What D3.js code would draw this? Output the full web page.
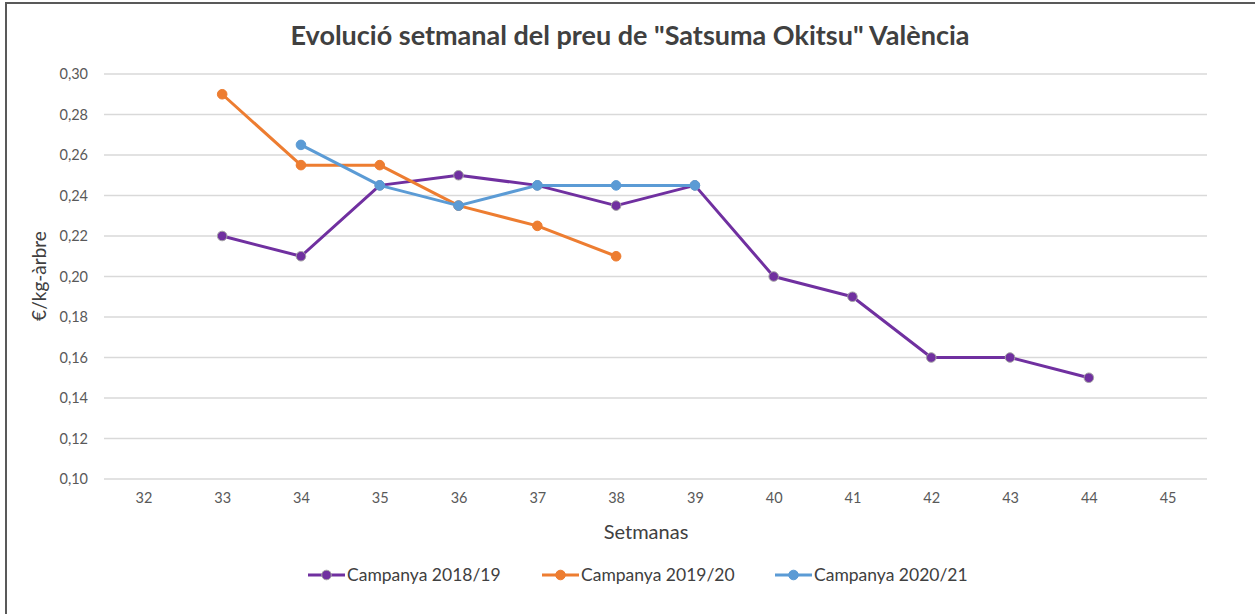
<!DOCTYPE html>
<html><head><meta charset="utf-8">
<script src="https://cdn.jsdelivr.net/npm/d3@7"></script>
<style>
html,body{margin:0;padding:0;background:#fff;}
svg{display:block;}
</style></head>
<body>
<script>
const weeks = [32,33,34,35,36,37,38,39,40,41,42,43,44,45];
const yTicks = [0.10,0.12,0.14,0.16,0.18,0.20,0.22,0.24,0.26,0.28,0.30];
const seriesNames = ["Campanya 2018/19","Campanya 2019/20","Campanya 2020/21"];
const weeks1819 = [33,34,35,36,37,38,39,40,41,42,43,44];
const vals1819 = [0.22,0.21,0.245,0.25,0.245,0.235,0.245,0.20,0.19,0.16,0.16,0.15];
const weeks1920 = [33,34,35,36,37,38];
const vals1920 = [0.29,0.255,0.255,0.235,0.225,0.21];
const weeks2021 = [34,35,36,37,38,39];
const vals2021 = [0.265,0.245,0.235,0.245,0.245,0.245];
const colors = ["#7030A0","#ED7D31","#5B9BD5"];

const series = [
  {name: seriesNames[0], pts: weeks1819.map((w,i)=>({w, v: vals1819[i]})), color: colors[0], stroke: "#A5A5A5"},
  {name: seriesNames[1], pts: weeks1920.map((w,i)=>({w, v: vals1920[i]})), color: colors[1], stroke: colors[1]},
  {name: seriesNames[2], pts: weeks2021.map((w,i)=>({w, v: vals2021[i]})), color: colors[2], stroke: colors[2]}
];

const W = 1255, H = 614;
const font = "Lato, 'Open Sans', sans-serif";
const svg = d3.select("body").append("svg").attr("width", W).attr("height", H);
svg.append("rect").attr("x",0).attr("y",0).attr("width",W).attr("height",H).attr("fill","#fff");
// chart border
svg.append("rect").attr("x",6).attr("y",3).attr("width",W+10).attr("height",H+10)
  .attr("fill","none").attr("stroke","#595959").attr("stroke-width",2);

const x = d3.scalePoint().domain(weeks).range([104,1207]).padding(0.5);
const y = d3.scaleLinear().domain([0.10,0.30]).range([479,74]);

// gridlines
svg.append("g").selectAll("line").data(yTicks).join("line")
  .attr("x1",104).attr("x2",1207)
  .attr("y1",d=>y(d)).attr("y2",d=>y(d))
  .attr("stroke","#D9D9D9").attr("stroke-width",1.3);

const fmt = d => d3.format(".2f")(d).replace(".",",");
// y axis
const ya = svg.append("g").attr("transform","translate(104,0)")
  .call(d3.axisLeft(y).tickValues(yTicks).tickFormat(fmt).tickSize(0).tickPadding(16));
ya.select(".domain").remove();
ya.selectAll("text").attr("font-family",font).attr("font-size",14.5).attr("fill","#595959");

// x axis
const xa = svg.append("g").attr("transform","translate(0,479)")
  .call(d3.axisBottom(x).tickSize(0).tickPadding(14));
xa.select(".domain").remove();
xa.selectAll("text").attr("font-family",font).attr("font-size",14.5).attr("fill","#595959");

// title
svg.append("text").attr("x",630).attr("y",45).attr("text-anchor","middle")
  .attr("font-family",font).attr("font-weight","bold").attr("font-size",27).attr("fill","#404040")
  .text('Evolució setmanal del preu de "Satsuma Okitsu" València');

// axis titles
svg.append("text").attr("transform","translate(46,276) rotate(-90)").attr("text-anchor","middle")
  .attr("font-family",font).attr("font-size",19).attr("fill","#404040").text("€/kg-àrbre");
svg.append("text").attr("x",646).attr("y",539).attr("text-anchor","middle")
  .attr("font-family",font).attr("font-size",20).attr("fill","#404040").text("Setmanas");

// lines
const line = d3.line().x(d=>x(d.w)).y(d=>y(d.v));
series.forEach(s=>{
  svg.append("path").datum(s.pts).attr("d",line).attr("fill","none")
    .attr("stroke",s.color).attr("stroke-width",3).attr("stroke-linejoin","round");
  svg.append("g").selectAll("circle").data(s.pts).join("circle")
    .attr("cx",d=>x(d.w)).attr("cy",d=>y(d.v)).attr("r",4.8)
    .attr("fill",s.color).attr("stroke",s.stroke).attr("stroke-width",1);
});

// legend
const legX = [308,542,775];
series.forEach((s,i)=>{
  const g = svg.append("g").attr("transform",`translate(${legX[i]},575)`);
  g.append("line").attr("x1",0).attr("x2",37).attr("y1",0).attr("y2",0)
    .attr("stroke",s.color).attr("stroke-width",3);
  g.append("circle").attr("cx",18.5).attr("cy",0).attr("r",4.8)
    .attr("fill",s.color).attr("stroke",s.stroke).attr("stroke-width",1);
  g.append("text").attr("x",39).attr("y",6)
    .attr("font-family",font).attr("font-size",17.5).attr("fill","#404040").text(s.name);
});
</script>
</body></html>
